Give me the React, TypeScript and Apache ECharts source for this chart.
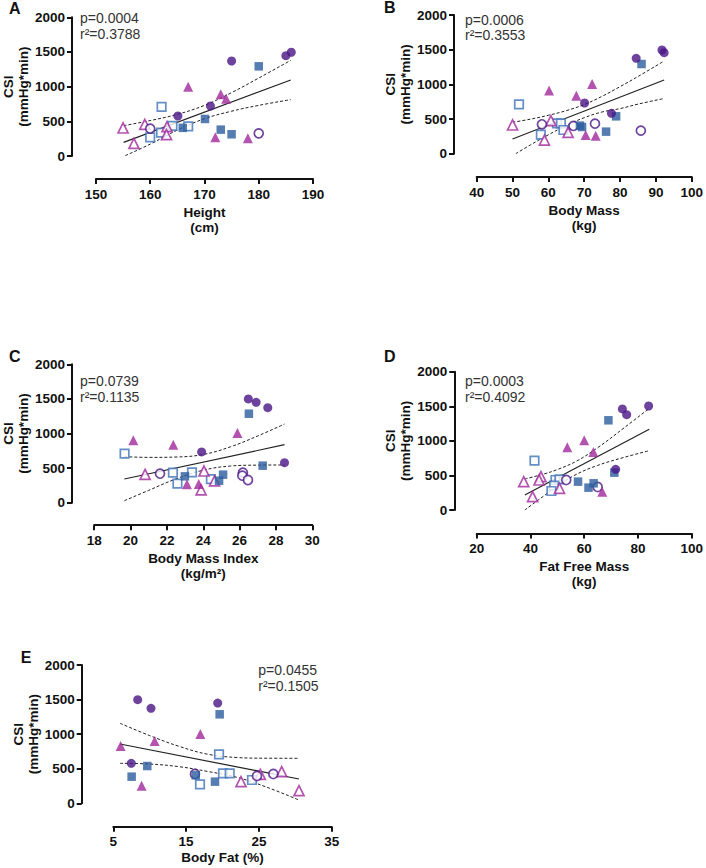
import React, { useEffect, useRef } from "react";
import * as echarts from "echarts";

type Pt = [number, number];

// ---------- Panel A: Height (cm) vs CSI ----------
const A_filledCircle: Pt[] = [[186, 1496], [185, 1447], [175, 1370], [171.1, 721], [165.1, 577]];
const A_openCircle: Pt[] = [[160, 394], [180, 327]];
const A_filledSquare: Pt[] = [[180, 1293], [170.1, 534], [166, 406], [173, 380], [175, 313]];
const A_openSquare: Pt[] = [[162.1, 707], [160, 270], [162, 337], [164.1, 433], [167, 428]];
const A_filledTriangle: Pt[] = [[167, 1000], [173, 890], [174, 827], [172, 270], [178, 255]];
const A_openTriangle: Pt[] = [[155, 404], [157, 183], [159, 457], [163.1, 423], [163, 308]];
const A_fit: Pt[] = [[155.1, 197], [185.9, 1096]];
const A_upper: Pt[] = [[155.1, 437], [160, 511], [165, 601], [170, 730], [175, 914], [180, 1124], [185.9, 1379]];
const A_lower: Pt[] = [[155.4, 5], [160, 171], [165, 373], [170, 537], [175, 646], [180, 730], [185.9, 813]];

// ---------- Panel B: Body Mass (kg) ----------
const B_filledCircle: Pt[] = [[91.7, 1495], [92.3, 1457], [84.5, 1375], [70.1, 731], [77.6, 582]];
const B_openCircle: Pt[] = [[58.2, 424], [67, 400], [73, 433], [85.8, 332]];
const B_filledSquare: Pt[] = [[86, 1293], [78.9, 539], [68.8, 405], [69.4, 385], [76.1, 318]];
const B_openSquare: Pt[] = [[51.8, 712], [57.9, 274], [62.4, 436], [63.5, 438], [64.2, 342]];
const B_filledTriangle: Pt[] = [[60.2, 911], [67.8, 837], [72.2, 1005], [70.4, 270], [73.2, 260]];
const B_openTriangle: Pt[] = [[50, 414], [58.9, 197], [60.7, 476], [65.5, 308]];
const B_fit: Pt[] = [[50, 212], [92.3, 1063]];
const B_upper: Pt[] = [[50, 453], [55, 498], [60, 554], [65, 621], [70, 709], [75, 828], [80, 967], [85, 1113], [92.3, 1337]];
const B_lower: Pt[] = [[50.9, 0], [55, 127], [60, 272], [65, 407], [70, 519], [75, 602], [80, 650], [85, 715], [92.3, 796]];

// ---------- Panel C: Body Mass Index (kg/m²) ----------
const C_filledCircle: Pt[] = [[26.48, 1499], [26.91, 1451], [27.55, 1373], [23.91, 733], [28.47, 578]];
const C_openCircle: Pt[] = [[21.62, 419], [26.18, 434], [26.15, 390], [26.46, 328]];
const C_filledSquare: Pt[] = [[26.51, 1286], [27.27, 535], [22.99, 381], [25.09, 405], [24.87, 318]];
const C_openSquare: Pt[] = [[19.67, 708], [22.33, 434], [23.38, 439], [22.58, 275], [24.42, 342]];
const C_filledTriangle: Pt[] = [[20.15, 902], [22.35, 838], [25.88, 1007], [23.1, 266], [23.75, 270]];
const C_openTriangle: Pt[] = [[20.8, 410], [24.04, 458], [23.88, 184], [24.62, 314]];
const C_fit: Pt[] = [[19.66, 342], [28.47, 838]];
const C_upper: Pt[] = [[19.66, 665], [21, 655], [22.5, 660], [24, 697], [25.5, 808], [27, 965], [28.47, 1137]];
const C_lower: Pt[] = [[19.66, 29], [21, 179], [22.5, 344], [24, 470], [25.5, 530], [27, 543], [28.47, 545]];

// ---------- Panel D: Fat Free Mass (kg) ----------
const D_filledCircle: Pt[] = [[83.96, 1504], [74.2, 1461], [75.8, 1378], [71.7, 588]];
const D_openCircle: Pt[] = [[53.3, 434], [65, 333]];
const D_filledSquare: Pt[] = [[69, 1297], [71.2, 540], [57.7, 410], [61.6, 323], [63.5, 386]];
const D_openSquare: Pt[] = [[41.5, 713], [49.3, 434], [50.8, 443], [48.8, 352], [47.8, 275]];
const D_filledTriangle: Pt[] = [[53.7, 906], [60, 1008], [63.4, 839], [66.7, 265]];
const D_openTriangle: Pt[] = [[37.5, 410], [40.8, 193], [43.9, 482], [43.2, 434], [50.8, 313]];
const D_fit: Pt[] = [[37.9, 217], [84.2, 1167]];
const D_upper: Pt[] = [[37.9, 448], [45, 521], [50, 585], [57, 704], [65, 901], [75, 1193], [84.2, 1470]];
const D_lower: Pt[] = [[37.9, 0], [45, 204], [50, 345], [57, 514], [65, 645], [75, 763], [84.2, 858]];

// ---------- Panel E: Body Fat (%) ----------
const E_filledCircle: Pt[] = [[8.35, 1499], [10.18, 1373], [19.34, 1450], [7.47, 578]];
const E_openCircle: Pt[] = [[16.22, 424], [24.74, 395], [26.98, 424]];
const E_filledSquare: Pt[] = [[19.61, 1287], [9.67, 539], [7.52, 385], [16.32, 405], [18.97, 313]];
const E_openSquare: Pt[] = [[19.52, 708], [20.07, 434], [20.99, 434], [16.91, 275], [24.05, 337]];
const E_filledTriangle: Pt[] = [[6.01, 829], [10.68, 901], [16.95, 1002], [8.89, 255]];
const E_openTriangle: Pt[] = [[22.54, 313], [25.19, 419], [28.13, 457], [30.51, 183]];
const E_fit: Pt[] = [[5.92, 858], [30.5, 351]];
const E_upper: Pt[] = [[5.92, 1157], [10, 979], [14, 825], [18, 709], [22, 662], [26, 652], [30.5, 651]];
const E_lower: Pt[] = [[5.92, 578], [10, 568], [14, 530], [18, 460], [22, 375], [26, 236], [30.5, 48]];

// ---------- axis / text labels ----------
const panelLetters = ["A", "B", "C", "D", "E"];
const xTitles = ["Height\n(cm)", "Body Mass\n(kg)", "Body Mass Index\n(kg/m²)", "Fat Free Mass\n(kg)", "Body Fat (%)"];
const yTitle = "CSI\n(mmHg*min)";
const xRanges: [number, number, number][] = [[150, 190, 10], [40, 100, 10], [18, 30, 2], [20, 100, 20], [5, 35, 10]];
const yRange: [number, number, number] = [0, 2000, 500];
const stats = [
  ["p=0.0004", "r²=0.3788"],
  ["p=0.0006", "r²=0.3553"],
  ["p=0.0739", "r²=0.1135"],
  ["p=0.0003", "r²=0.4092"],
  ["p=0.0455", "r²=0.1505"],
];

const panels = [
  { fc: A_filledCircle, oc: A_openCircle, fs: A_filledSquare, os: A_openSquare, ft: A_filledTriangle, ot: A_openTriangle, fit: A_fit, up: A_upper, lo: A_lower },
  { fc: B_filledCircle, oc: B_openCircle, fs: B_filledSquare, os: B_openSquare, ft: B_filledTriangle, ot: B_openTriangle, fit: B_fit, up: B_upper, lo: B_lower },
  { fc: C_filledCircle, oc: C_openCircle, fs: C_filledSquare, os: C_openSquare, ft: C_filledTriangle, ot: C_openTriangle, fit: C_fit, up: C_upper, lo: C_lower },
  { fc: D_filledCircle, oc: D_openCircle, fs: D_filledSquare, os: D_openSquare, ft: D_filledTriangle, ot: D_openTriangle, fit: D_fit, up: D_upper, lo: D_lower },
  { fc: E_filledCircle, oc: E_openCircle, fs: E_filledSquare, os: E_openSquare, ft: E_filledTriangle, ot: E_openTriangle, fit: E_fit, up: E_upper, lo: E_lower },
];

// layout (pixels)
const grids = [
  { left: 94, top: 17.3, width: 219, height: 138.7 },
  { left: 476.7, top: 15, width: 219.3, height: 138.7 },
  { left: 92.3, top: 364.3, width: 220, height: 138.4 },
  { left: 476.7, top: 371.7, width: 219.3, height: 138.3 },
  { left: 113.3, top: 665, width: 218.4, height: 138.3 },
];
const yOffsets = [24, 22.7, 22.3, 22.4, 31.6];
const xOffsets = [23, 23.3, 22.5, 23.5, 23.5];
const yNameGaps = [39, 39, 40, 40, 31];
const xNameGaps = [26, 26, 26, 25, 18];
const letterPos = [[9, 0], [384, -0.5], [9, 348], [384, 348], [20.7, 649.5]];
const statPos = [[80, 10.3], [465, 12], [80, 373.5], [465, 373.5], [258.3, 662.5]];

const FONT = "'Liberation Sans', Arial, Helvetica, sans-serif";
const INK = "#111";

const C_PURPLE = "#4A1486";
const C_BLUE = "#2B5C9E";
const C_BLUE_OPEN = "#3D72B8";
const C_MAGENTA = "#A0289B";

export default function App() {
  const ref = useRef<HTMLDivElement>(null);
  useEffect(() => {
    document.body.style.margin = "0";
    if (!ref.current) return;
    const chart = echarts.init(ref.current, undefined, { renderer: "svg" });

    const series: any[] = [];
    panels.forEach((p, i) => {
      const axis = { xAxisIndex: i, yAxisIndex: i };
      const line = (data: Pt[], dashed: boolean) => ({
        type: "line",
        ...axis,
        data,
        smooth: dashed ? 0.4 : false,
        symbol: "none",
        silent: true,
        z: 3,
        lineStyle: { color: "#222", width: dashed ? 1 : 1.2, type: dashed ? [3, 2] : "solid" },
      });
      series.push(line(p.up, true), line(p.lo, true), line(p.fit, false));
      const sc = (data: Pt[], symbol: string, size: number, fill: string, stroke?: string) => ({
        type: "scatter",
        ...axis,
        data,
        symbol,
        symbolSize: size,
        z: 4,
        itemStyle: stroke
          ? { color: "#ffffff", borderColor: stroke, borderWidth: 1.7 }
          : { color: fill, borderWidth: 0 },
      });
      series.push(
        sc(p.os, "rect", 8.5, "#fff", C_BLUE_OPEN),
        sc(p.ot, "triangle", 10, "#fff", C_MAGENTA),
        sc(p.oc, "circle", 9, "#fff", C_PURPLE),
        sc(p.fs, "rect", 8.5, C_BLUE),
        sc(p.ft, "triangle", 10, C_MAGENTA),
        sc(p.fc, "circle", 9, C_PURPLE)
      );
    });

    const axisCommon = {
      axisLine: { show: true, onZero: false, lineStyle: { color: INK, width: 2 } },
      axisTick: { show: true, length: 5, lineStyle: { color: INK, width: 2 } },
      splitLine: { show: false },
      axisLabel: { color: INK, fontWeight: "bold", fontSize: 13.5, fontFamily: FONT, margin: 8, formatter: (v: number) => String(v) },
      nameTextStyle: { color: INK, fontWeight: "bold", fontSize: 13.5, fontFamily: FONT, lineHeight: 15 },
      nameLocation: "middle",
    };

    const graphic: any[] = [];
    panelLetters.forEach((l, i) => {
      graphic.push({
        type: "text",
        x: letterPos[i][0],
        y: letterPos[i][1],
        style: { text: l, font: `bold 16px ${FONT}`, fill: INK, textVerticalAlign: "top" },
      });
      graphic.push({
        type: "text",
        x: statPos[i][0],
        y: statPos[i][1],
        style: { text: stats[i].join("\n"), font: `14px ${FONT}`, lineHeight: 15.5, fill: "#333", textVerticalAlign: "top" },
      });
    });

    chart.setOption({
      animation: false,
      backgroundColor: "#ffffff",
      grid: grids.map((g) => ({ ...g, containLabel: false })),
      xAxis: grids.map((_, i) => ({
        ...axisCommon,
        gridIndex: i,
        type: "value",
        position: "bottom",
        offset: xOffsets[i],
        min: xRanges[i][0],
        max: xRanges[i][1],
        interval: xRanges[i][2],
        name: xTitles[i],
        nameGap: xNameGaps[i],
      })),
      yAxis: grids.map((_, i) => ({
        ...axisCommon,
        gridIndex: i,
        type: "value",
        position: "left",
        offset: yOffsets[i],
        min: yRange[0],
        max: yRange[1],
        interval: yRange[2],
        name: yTitle,
        nameGap: yNameGaps[i],
        nameRotate: 90,
        axisLabel: { ...axisCommon.axisLabel, margin: 7 },
      })),
      graphic,
      series,
    });
    return () => chart.dispose();
  }, []);
  return <div ref={ref} style={{ width: 706, height: 868 }} />;
}
